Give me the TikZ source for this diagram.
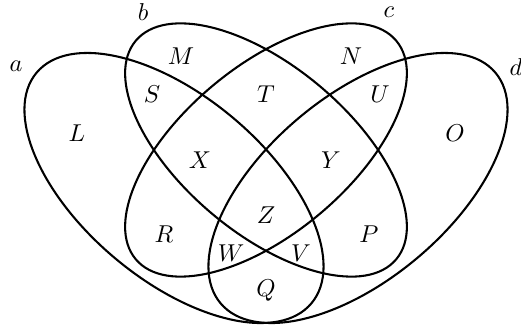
\documentclass[tikz,border=0pt]{standalone}
\begin{document}
\begin{tikzpicture}[x=0.0144cm,y=-0.0144cm,
  setline/.style={line width=0.85pt},
  lbl/.style={inner sep=0pt}]
\useasboundingbox (0,0) rectangle (521,329);
% sets a and d (outer), b and c (inner)
\draw[setline,rotate around={-40:(174,188)}] (174,188) ellipse [x radius=179.4, y radius=91.7];
\draw[setline,rotate around={40:(358,188)}] (358,188) ellipse [x radius=179.4, y radius=91.7];
\draw[setline,rotate around={-40:(266,150)}] (266,150) ellipse [x radius=170, y radius=83.5];
\draw[setline,rotate around={40:(266,150)}] (266,150) ellipse [x radius=170, y radius=83.5];
% set names
\node[lbl] (la) at (16,66) {$a$};
\node[lbl] (lb) at (143,12) {$b$};
\node[lbl] (lc) at (389,12) {$c$};
\node[lbl] (ld) at (516,67) {$d$};
% regions
\node[lbl] (M) at (181,56) {$M$};
\node[lbl] (N) at (351,56) {$N$};
\node[lbl] (S) at (152,94) {$S$};
\node[lbl] (T) at (266,94) {$T$};
\node[lbl] (U) at (380,94) {$U$};
\node[lbl] (L) at (77,133) {$L$};
\node[lbl] (O) at (455,133) {$O$};
\node[lbl] (X) at (200,160) {$X$};
\node[lbl] (Y) at (331,160) {$Y$};
\node[lbl] (Z) at (266,215) {$Z$};
\node[lbl] (R) at (164,234) {$R$};
\node[lbl] (P) at (369,234) {$P$};
\node[lbl] (W) at (231,253) {$W$};
\node[lbl] (V) at (301,253) {$V$};
\node[lbl] (Q) at (266,291) {$Q$};
\end{tikzpicture}
\end{document}
